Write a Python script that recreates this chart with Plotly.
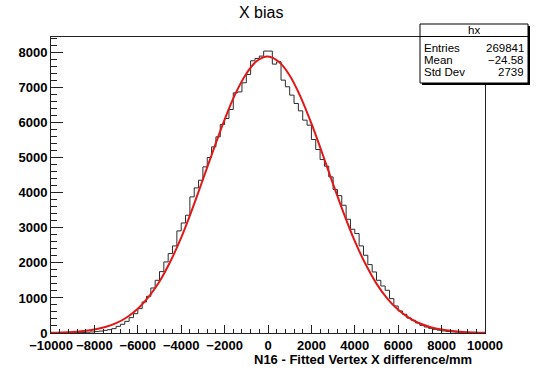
import plotly.graph_objects as go

# ---- data ----
x_min, x_max, n_bins = -10000, 10000, 100
bin_counts = [
    2, 3, 4, 5, 7, 9, 12, 16, 22, 30,
    40, 55, 75, 95, 124, 190, 248, 333, 438, 552,
    695, 885, 1047, 1285, 1504, 1752, 2028, 2266, 2485, 2913,
    3140, 3361, 3884, 4141, 4360, 4741, 5008, 5312, 5598, 5950,
    6121, 6378, 6854, 6880, 7140, 7378, 7768, 7835, 7902, 8045,
    8045, 7673, 7740, 7216, 7026, 6788, 6550, 6340, 6074, 5931,
    5522, 5236, 4950, 4760, 4455, 4094, 3920, 3646, 3246, 2961,
    2837, 2485, 2218, 1952, 1742, 1504, 1342, 1219, 981, 771,
    628, 533, 428, 362, 286, 219, 171, 133, 105, 80,
    60, 45, 33, 25, 18, 13, 10, 7, 5, 4,
]
fit_x = [-10000, -9500, -9000, -8500, -8000, -7500, -7000, -6500, -6000, -5500,
         -5000, -4500, -4000, -3500, -3000, -2500, -2000, -1500, -1000, -500,
         0, 500, 1000, 1500, 2000, 2500, 3000, 3500, 4000, 4500,
         5000, 5500, 6000, 6500, 7000, 7500, 8000, 8500, 9000, 9500, 10000]
fit_y = [8, 16, 32, 58, 100, 170, 280, 450, 690, 1030,
         1470, 2040, 2720, 3520, 4380, 5250, 6090, 6830, 7400, 7770,
         7890, 7740, 7350, 6740, 5980, 5130, 4250, 3400, 2620, 1960,
         1410, 980, 660, 430, 270, 165, 97, 55, 30, 16, 8]
y_top = 8447
title_text = "X bias"
x_title = "N16 - Fitted Vertex X difference/mm"
stats_name = "hx"
stats_rows = [("Entries", "269841"), ("Mean", "\u221224.58"), ("Std Dev", "2739")]

# ---- build ----
width = (x_max - x_min) / n_bins
edges = [x_min + width * i for i in range(n_bins + 1)]
step_y = bin_counts + [bin_counts[-1]]

W, H = 536, 371
ML, MR, MT, MB = 51, 51, 37, 38
PW, PH = W - ML - MR, H - MT - MB


def px(x):
    return (x - ML) / PW


def py(y):
    return (H - MB - y) / PH


FONT = "Liberation Sans, Arial, Helvetica, sans-serif"
fig = go.Figure()
fig.add_trace(go.Scatter(x=edges, y=step_y, mode="lines", line_shape="hv",
                         line=dict(color="#2a2a2a", width=1), hoverinfo="skip"))
fig.add_trace(go.Scatter(x=fit_x, y=fit_y, mode="lines", line_shape="spline",
                         line=dict(color="#e01818", width=2), hoverinfo="skip"))

axis_common = dict(showgrid=False, zeroline=False, showline=True, mirror=True,
                   automargin=False, tickformat="d",
                   linecolor="#222", linewidth=1, ticks="inside", tickcolor="#222",
                   tickfont=dict(family=FONT, size=13, color="black", weight="bold"))
fig.update_xaxes(range=[x_min, x_max], dtick=2000, tick0=0, ticklen=8,
                 minor=dict(ticks="inside", dtick=400, ticklen=4, tickcolor="#222"),
                 **axis_common)
fig.update_yaxes(range=[0, y_top], dtick=1000, tick0=0, ticklen=12,
                 minor=dict(ticks="inside", dtick=200, ticklen=6, tickcolor="#222"),
                 **axis_common)

shapes = []
# stats box with shadow
bx0, bx1, by0, by1 = 420, 528, 24, 83
shapes.append(dict(type="rect", xref="paper", yref="paper",
                   x0=px(bx0 + 2), x1=px(bx1 + 2), y0=py(by1 + 2), y1=py(by0 + 2),
                   fillcolor="black", line=dict(width=0), layer="above"))
shapes.append(dict(type="rect", xref="paper", yref="paper",
                   x0=px(bx0), x1=px(bx1), y0=py(by1), y1=py(by0),
                   fillcolor="white", line=dict(color="black", width=1), layer="above"))
shapes.append(dict(type="line", xref="paper", yref="paper",
                   x0=px(bx0), x1=px(bx1), y0=py(36.5), y1=py(36.5),
                   line=dict(color="black", width=1), layer="above"))

ann = []
ann.append(dict(text=title_text, xref="paper", yref="paper", x=px(261), y=py(13),
                showarrow=False, xanchor="center", yanchor="middle",
                font=dict(family=FONT, size=16, color="black")))
ann.append(dict(text=x_title, xref="paper", yref="paper", x=px(473), y=py(359.5),
                showarrow=False, xanchor="right", yanchor="middle", borderpad=0, height=13,
                font=dict(family=FONT, size=13, color="black", weight="bold")))
ann.append(dict(text=stats_name, xref="paper", yref="paper", x=px((bx0 + bx1) / 2), y=py(30),
                showarrow=False, xanchor="center", yanchor="middle", borderpad=0, height=11,
                font=dict(family=FONT, size=11.5, color="black")))
row_y = [47.5, 59.5, 71.5]
for (lab, val), ry in zip(stats_rows, row_y):
    ann.append(dict(text=lab, xref="paper", yref="paper", x=px(bx0 + 3), y=py(ry),
                    showarrow=False, xanchor="left", yanchor="middle", borderpad=0, height=11,
                    font=dict(family=FONT, size=11.5, color="black")))
    ann.append(dict(text=val, xref="paper", yref="paper", x=px(bx1 - 3), y=py(ry),
                    showarrow=False, xanchor="right", yanchor="middle", borderpad=0, height=11,
                    font=dict(family=FONT, size=11.5, color="black")))

fig.update_layout(width=W, height=H, margin=dict(l=ML, r=MR, t=MT, b=MB, autoexpand=False),
                  paper_bgcolor="white", plot_bgcolor="white", showlegend=False,
                  shapes=shapes, annotations=ann)
fig.write_html("out.html", config={"displayModeBar": False, "staticPlot": True})

# remove the default page margin so the figure sits at the window's top-left corner
with open("out.html", "r", encoding="utf-8") as f:
    page = f.read()
page = page.replace("<head>", "<head><style>html,body{margin:0;padding:0;overflow:hidden;}</style>", 1)
with open("out.html", "w", encoding="utf-8") as f:
    f.write(page)
